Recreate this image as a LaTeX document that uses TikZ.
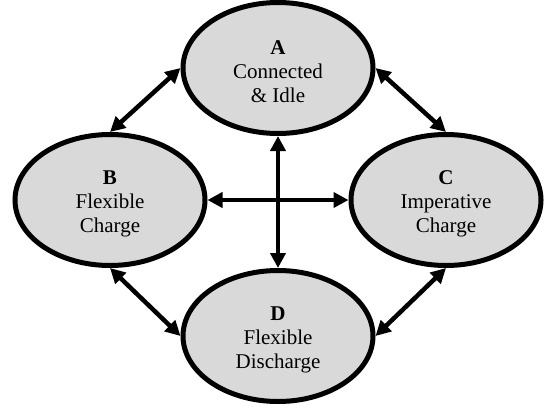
\documentclass[tikz,border=0pt]{standalone}
\usepackage{fontspec}
\setmainfont{Liberation Serif}
\usetikzlibrary{shapes.geometric,arrows.meta}
\definecolor{stategray}{RGB}{217,217,217}
\newcommand{\toppad}{\rule{0pt}{22pt}}
\begin{document}
\begin{tikzpicture}[x=1pt,y=-1pt,
  state/.style={ellipse, draw=black, line width=5pt, fill=stategray,
    minimum width=190pt, minimum height=131pt, inner sep=0pt,
    align=center, font=\fontsize{21}{24}\selectfont},
  link/.style={line width=4.5pt, {Triangle[length=15pt,width=15pt]}-{Triangle[length=15pt,width=15pt]}}
]
\useasboundingbox (0,0) rectangle (551,407);
\node[state] (A) at (278,68) {\toppad\textbf{A}\\Connected\\\& Idle};
\node[state] (B) at (110,200) {\toppad\textbf{B}\\Flexible\\Charge};
\node[state] (C) at (446,200) {\toppad\textbf{C}\\Imperative\\Charge};
\node[state] (D) at (278,336) {\toppad\textbf{D}\\Flexible\\Discharge};
\draw[link] (B.north) -- (A.west);
\draw[link] (A.east) -- (C.north);
\draw[link] (B.south) -- (D.west);
\draw[link] (C.south) -- (D.east);
\draw[link] (A.south) -- (D.north);
\draw[link] (B.east) -- (C.west);
\end{tikzpicture}
\end{document}
